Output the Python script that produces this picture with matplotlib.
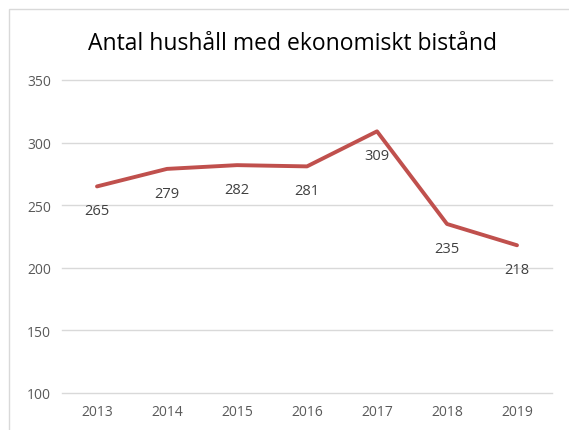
import matplotlib.pyplot as plt
from matplotlib.patches import Rectangle

# data
years = ["2013", "2014", "2015", "2016", "2017", "2018", "2019"]
households = [265, 279, 282, 281, 309, 235, 218]
yticks = [100, 150, 200, 250, 300, 350]

fig = plt.figure(figsize=(5.69, 4.31), dpi=100)
# light chart border like in Excel
fig.patches.append(Rectangle((9 / 569, -0.1), 1.2, 1 - 10 / 431 + 0.1,
                             transform=fig.transFigure, fill=False,
                             edgecolor="#d9d9d9", linewidth=1))

ax = fig.add_axes([62 / 569, 1 - 394 / 431, (552 - 62) / 569, (394 - 81) / 431])
x = range(len(years))
ax.plot(x, households, color="#c0504d", linewidth=2.8, solid_capstyle="round")

for xi, v in zip(x, households):
    ax.annotate(str(v), (xi, v), xytext=(0, -12), textcoords="offset points",
                ha="center", va="top", fontsize=10.5, color="#404040",
                family="Open Sans")

ax.set_xlim(-0.5, len(years) - 0.5)
ax.set_ylim(100, 350)
ax.set_yticks(yticks)
ax.set_xticks(list(x))
ax.set_xticklabels(years)
ax.grid(axis="y", color="#d9d9d9", linewidth=1)
for gl in ax.get_ygridlines():
    gl.set_clip_on(False)
ax.set_axisbelow(True)
for s in ax.spines.values():
    s.set_visible(False)
ax.tick_params(length=0, labelsize=10, colors="#595959", pad=8)
for lab in ax.get_xticklabels() + ax.get_yticklabels():
    lab.set_family("Open Sans")

fig.text(292 / 569, 1 - 44 / 431, "Antal hushåll med ekonomiskt bistånd",
         ha="center", va="center", fontsize=16.5, color="#000000", family="Open Sans")

fig.savefig("out.png", dpi=100)
